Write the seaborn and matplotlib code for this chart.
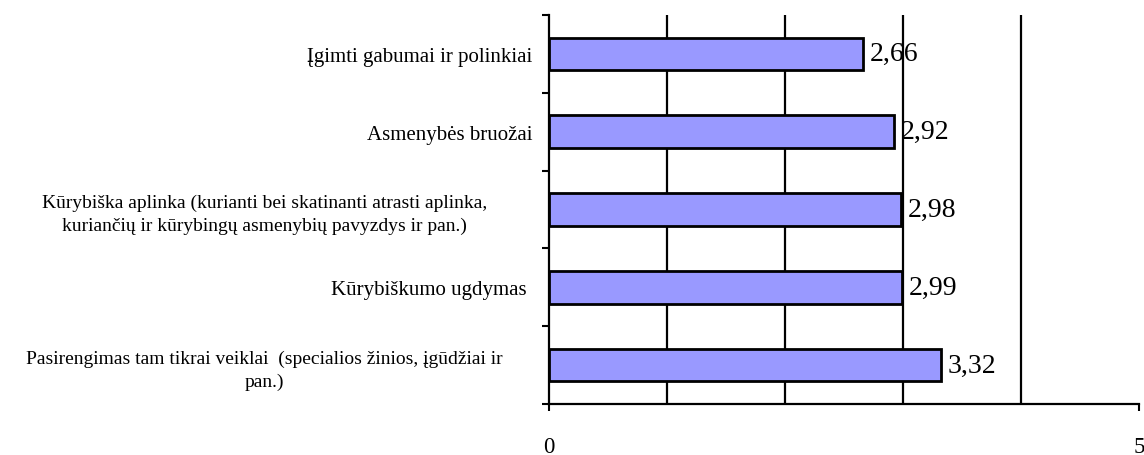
import numpy as np
import pandas as pd
import matplotlib
matplotlib.use("Agg")
import matplotlib.pyplot as plt
import matplotlib.transforms as mtransforms
import seaborn as sns

# Duomenys
categories = [
    "Įgimti gabumai ir polinkiai",
    "Asmenybės bruožai",
    "Kūrybiška aplinka (kurianti bei skatinanti atrasti aplinka,\nkuriančių ir kūrybingų asmenybių pavyzdys ir pan.)",
    "Kūrybiškumo ugdymas ",
    "Pasirengimas tam tikrai veiklai  (specialios žinios, įgūdžiai ir\npan.)",
]
values = [2.66, 2.92, 2.98, 2.99, 3.32]
value_labels = ["2,66", "2,92", "2,98", "2,99", "3,32"]
x_ticks = [0, 5]
x_grid = [1, 2, 3, 4, 5]

sns.set_style("white")
plt.rcParams['font.family'] = ['Liberation Serif', 'DejaVu Serif']
plt.rcParams['text.color'] = 'black'
plt.rcParams['xtick.color'] = 'black'
plt.rcParams['ytick.color'] = 'black'

df = pd.DataFrame({"kat": categories, "vid": values})

fig = plt.figure(figsize=(11.44, 4.56), dpi=100)
ax = fig.add_axes([0.4799, 0.112, 0.5157, 0.853])

sns.barplot(data=df, x="vid", y="kat", orient="h", color="#9999ff",
            saturation=1, width=0.42, edgecolor="black", linewidth=2,
            ax=ax, zorder=3)

ax.set_xlim(0, 5)
ax.set_ylim(len(categories) - 0.5, -0.5)
ax.set_xlabel("")
ax.set_ylabel("")

# Tinklelis
ax.set_xticks(x_ticks)
ax.set_xticklabels([str(t) for t in x_ticks], fontsize=16.5)
ax.set_xticks(x_grid, minor=True)
ax.tick_params(axis="x", which="minor", length=0)
ax.tick_params(axis="x", which="major", bottom=True, direction="out",
               length=5, width=1.5, pad=18, color="black")
ax.grid(False)
ax.grid(True, axis="x", which="minor", color="black", linewidth=1.6, zorder=1)

# Kategorijų žymės tarp stulpelių
ax.set_yticks(np.arange(len(categories)))
ax.set_yticklabels(categories, fontsize=15, multialignment="center",
                   linespacing=1.4)
ax.set_yticks(np.arange(len(categories) + 1) - 0.5, minor=True)
ax.tick_params(axis="y", which="major", left=False, length=0, pad=12)
ax.tick_params(axis="y", which="minor", left=True, direction="out",
               length=5, width=1.5, color="black")

for lbl in ax.get_yticklabels():
    if "\n" in lbl.get_text():
        lbl.set_ha("center")
        lbl.set_fontsize(14)
        lbl.set_transform(lbl.get_transform() +
                          mtransforms.ScaledTranslation(-2.68, 0, fig.dpi_scale_trans))

for s in ["top", "right"]:
    ax.spines[s].set_visible(False)
for s in ["left", "bottom"]:
    ax.spines[s].set_color("black")
    ax.spines[s].set_linewidth(1.6)

for i, (v, t) in enumerate(zip(values, value_labels)):
    ax.text(v + 0.06, i, t, va="center", ha="left", fontsize=20, zorder=2)

fig.savefig("out.png", dpi=100)
